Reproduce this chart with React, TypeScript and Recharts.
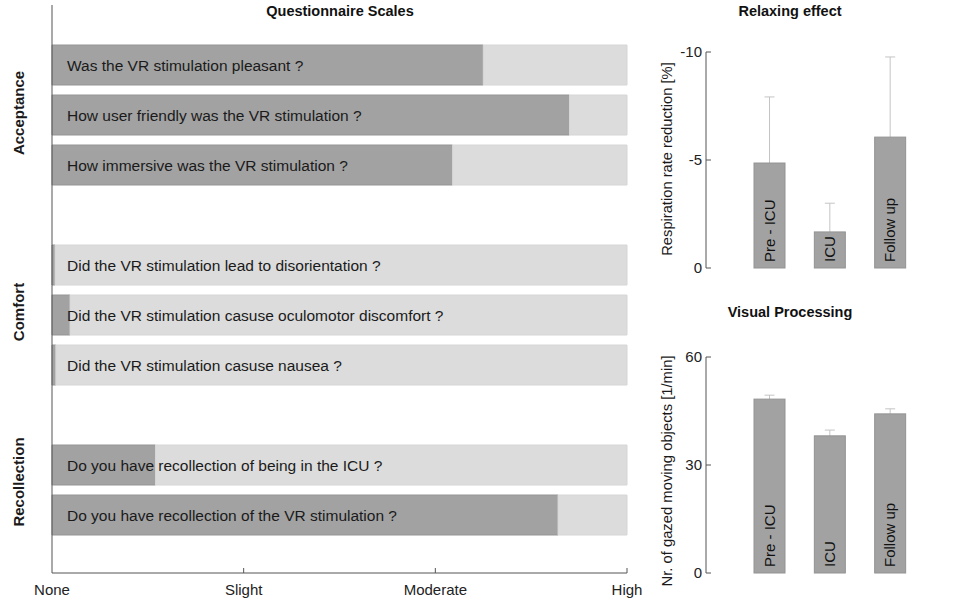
import React from 'react';
import { BarChart, Bar, XAxis, YAxis, LabelList } from 'recharts';

// questionnaire (left panel)
const questions = [
  'Was the VR stimulation pleasant ?',
  'How user friendly was the VR stimulation ?',
  'How immersive was the VR stimulation ?',
  'Did the VR stimulation lead to disorientation ?',
  'Did the VR stimulation casuse oculomotor discomfort ?',
  'Did the VR stimulation casuse nausea ?',
  'Do you have recollection of being in the ICU ?',
  'Do you have recollection of the VR stimulation ?',
];
const scores = [2.25, 2.7, 2.09, 0.016, 0.094, 0.02, 0.54, 2.64];
const groupNames = ['Acceptance', 'Comfort', 'Recollection'];
const groupSizes = [3, 3, 2];
const scaleTicks = [0, 1, 2, 3];
const scaleLabels = ['None', 'Slight', 'Moderate', 'High'];
const scaleMax = 3;

// right panels
const phases = ['Pre - ICU', 'ICU', 'Follow up'];
const respMean = [-4.86, -1.67, -6.06];
const respErr = [3.06, 1.33, 3.71];
const respTicks = [-10, -5, 0];
const gazeMean = [48.3, 38.1, 44.2];
const gazeErr = [1.1, 1.6, 1.4];
const gazeTicks = [0, 30, 60];

const FONT = '"Liberation Sans", Arial, Helvetica, sans-serif';
const AXIS = '#555';
const DARK = '#a2a2a2';
const LIGHT = '#dcdcdc';

const rows: any[] = [];
let qi = 0;
groupSizes.forEach((n, g) => {
  if (g > 0) rows.push({ id: `gap${g}`, score: null, rest: null, text: '' });
  for (let k = 0; k < n; k++, qi++) {
    rows.push({ id: `q${qi}`, score: scores[qi], rest: scaleMax - scores[qi], text: questions[qi] });
  }
});

const respData = phases.map((p, i) => ({ phase: p, mean: respMean[i], err: respErr[i] }));
const gazeData = phases.map((p, i) => ({ phase: p, mean: gazeMean[i], err: gazeErr[i] }));

const BottomTick = ({ x, y, payload }: any) => (
  <g>
    {payload.value > 0 && <line x1={x} y1={y} x2={x} y2={y - 5} stroke={AXIS} />}
    <text x={x} y={y + 22} textAnchor="middle" fontSize={15} fill="#222" fontFamily={FONT}>
      {scaleLabels[payload.value]}
    </text>
  </g>
);

const LeftTick = ({ x, y, payload }: any) => (
  <g>
    <line x1={x} y1={y} x2={x + 5} y2={y} stroke={AXIS} />
    <text x={x - 4} y={y + 5} textAnchor="end" fontSize={15} fill="#222" fontFamily={FONT}>
      {payload.value}
    </text>
  </g>
);

// question text, drawn over the light remainder bar, starting from the scale origin
const QuestionLabel = (props: any) => {
  const { x, y, width, height, value } = props;
  const qIdx = questions.indexOf(value);
  if (qIdx < 0) return null;
  const s = scores[qIdx];
  const k = width / (scaleMax - s);
  const left = x + width - scaleMax * k;
  return (
    <text x={left + 15} y={y + height / 2 + 5.5} fontSize={15.5} fill="#1a1a1a" fontFamily={FONT}>
      {value}
    </text>
  );
};

const PhaseLabel = (props: any) => {
  const { x, y, width, height, value } = props;
  const bottom = Math.max(y, y + height);
  const cx = x + width / 2;
  const by = bottom - 6;
  return (
    <text
      x={cx}
      y={by}
      transform={`rotate(-90 ${cx} ${by})`}
      dy={5}
      fontSize={15}
      fill="#111"
      fontFamily={FONT}
    >
      {value}
    </text>
  );
};

const ErrShape = (props: any) => {
  const { x, y, width, height, payload } = props;
  const top = Math.min(y, y + height);
  const h = Math.abs(height);
  const v = Math.abs(payload.mean);
  const len = v ? (payload.err / v) * h : 0;
  const cx = x + width / 2;
  return (
    <g>
      <line x1={cx} y1={top} x2={cx} y2={top - len} stroke="#c4c4c4" />
      <line x1={cx - 5} y1={top - len} x2={cx + 5} y2={top - len} stroke="#c4c4c4" />
      <rect x={x} y={top} width={width} height={h} fill={DARK} stroke="#939393" />
    </g>
  );
};

const Rotated = ({ cx, cy, children, bold, size }: any) => (
  <div
    style={{
      position: 'absolute',
      left: cx,
      top: cy,
      transform: 'translate(-50%, -50%) rotate(-90deg)',
      whiteSpace: 'nowrap',
      fontSize: size,
      fontWeight: bold ? 'bold' : 'normal',
      color: '#1a1a1a',
    }}
  >
    {children}
  </div>
);

const Title = ({ cx, top, children }: any) => (
  <div
    style={{
      position: 'absolute',
      left: cx - 150,
      width: 300,
      top,
      textAlign: 'center',
      fontSize: 14.5,
      fontWeight: 'bold',
      color: '#111',
    }}
  >
    {children}
  </div>
);

const SidePanel = ({ data, domain, ticks, reversed, top, height, marginTop, marginBottom }: any) => (
  <div style={{ position: 'absolute', left: 620, top }}>
    <BarChart
      width={337}
      height={height}
      data={data}
      margin={{ top: marginTop, right: 4, bottom: marginBottom, left: 36 }}
    >
      <XAxis
        dataKey="phase"
        type="category"
        height={0}
        tick={false}
        tickLine={false}
        axisLine={{ stroke: AXIS }}
        padding={{ left: 33, right: 33 }}
      />
      <YAxis
        type="number"
        domain={domain}
        ticks={ticks}
        reversed={reversed}
        width={50}
        tickSize={0}
        tickMargin={0}
        tick={<LeftTick />}
        axisLine={{ stroke: AXIS }}
        tickLine={false}
      />
      <Bar dataKey="mean" barSize={31} shape={<ErrShape />} isAnimationActive={false}>
        <LabelList dataKey="phase" content={<PhaseLabel />} />
      </Bar>
    </BarChart>
  </div>
);

export default function App() {
  return (
    <div
      style={{
        position: 'absolute',
        left: 0,
        top: 0,
        width: 957,
        height: 602,
        background: '#fff',
        fontFamily: FONT,
        overflow: 'hidden',
      }}
    >
      <div style={{ position: 'absolute', left: 0, top: 0 }}>
        <BarChart
          layout="vertical"
          width={660}
          height={602}
          data={rows}
          margin={{ top: 5, right: 33, bottom: 0, left: 2 }}
          barSize={40}
        >
          <XAxis
            type="number"
            domain={[0, scaleMax]}
            ticks={scaleTicks}
            height={29}
            tickSize={0}
            tickMargin={0}
            tick={<BottomTick />}
            axisLine={{ stroke: AXIS }}
            tickLine={false}
          />
          <YAxis
            type="category"
            dataKey="id"
            width={50}
            tick={false}
            tickLine={false}
            axisLine={{ stroke: AXIS }}
            padding={{ top: 35, bottom: 33 }}
          />
          <Bar dataKey="score" stackId="s" fill={DARK} stroke="#959595" isAnimationActive={false} />
          <Bar dataKey="rest" stackId="s" fill={LIGHT} stroke="#d6d6d6" isAnimationActive={false}>
            <LabelList dataKey="text" content={<QuestionLabel />} />
          </Bar>
        </BarChart>
      </div>

      <Title cx={340} top={3}>Questionnaire Scales</Title>
      <Title cx={790} top={3}>Relaxing effect</Title>
      <Title cx={790} top={304}>Visual Processing</Title>

      <Rotated cx={18} cy={113} bold size={15}>{groupNames[0]}</Rotated>
      <Rotated cx={18} cy={312} bold size={15}>{groupNames[1]}</Rotated>
      <Rotated cx={18} cy={482} bold size={15}>{groupNames[2]}</Rotated>

      <SidePanel
        data={respData}
        domain={[-10, 0]}
        ticks={respTicks}
        reversed
        top={0}
        height={290}
        marginTop={52}
        marginBottom={22}
      />
      <SidePanel
        data={gazeData}
        domain={[0, 60]}
        ticks={gazeTicks}
        reversed={false}
        top={290}
        height={312}
        marginTop={67}
        marginBottom={29}
      />

      <Rotated cx={667} cy={159} size={14.7}>Respiration rate reduction [%]</Rotated>
      <Rotated cx={667} cy={471} size={14.8}>Nr. of gazed moving objects [1/min]</Rotated>
    </div>
  );
}
